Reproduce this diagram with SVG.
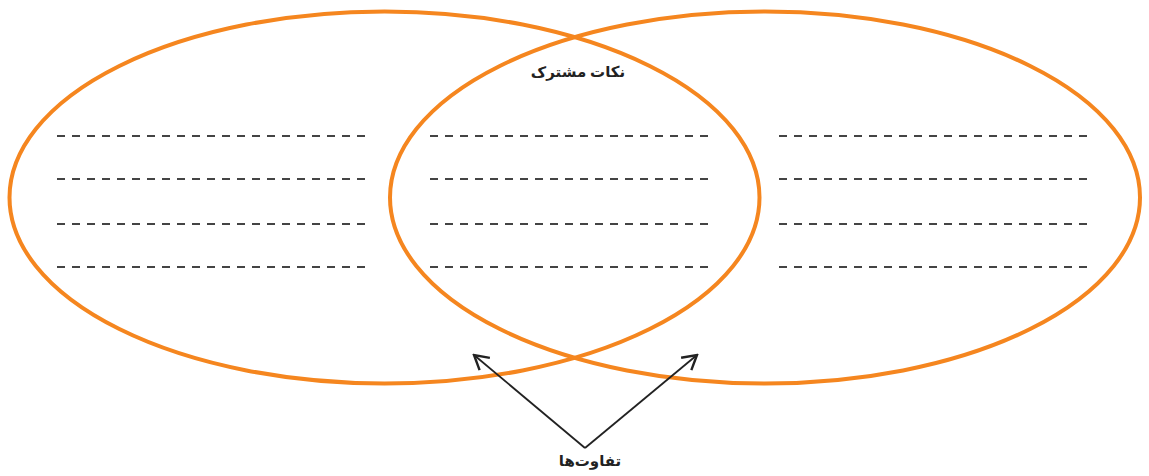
<svg xmlns="http://www.w3.org/2000/svg" width="1149" height="476" viewBox="0 0 1149 476">
<style>
.ell{fill:none;stroke:#F5861F;stroke-width:4}
.dash{stroke:#444;stroke-width:2;stroke-dasharray:8 7}
.arr{fill:none;stroke:#222;stroke-width:1.8}
.lbl{font-family:"Noto Sans","DejaVu Sans",sans-serif;font-weight:bold;fill:#222;font-size:15px;text-anchor:middle}
</style>
<defs>
<marker id="ah" viewBox="0 0 20 20" refX="18" refY="10" markerWidth="20" markerHeight="20" markerUnits="userSpaceOnUse" orient="auto">
<path d="M4,2 L18,10 L4,18" fill="none" stroke="#222" stroke-width="2.4"/>
</marker>
</defs>
<rect width="1149" height="476" fill="#fff"/>
<g id="left-circle">
<ellipse class="ell" cx="384.5" cy="197.5" rx="375" ry="186"/>
<line class="dash" x1="57" y1="136" x2="367" y2="136"/>
<line class="dash" x1="57" y1="179" x2="367" y2="179"/>
<line class="dash" x1="57" y1="224" x2="367" y2="224"/>
<line class="dash" x1="57" y1="267" x2="367" y2="267"/>
</g>
<g id="right-circle">
<ellipse class="ell" cx="765" cy="197.5" rx="375" ry="186"/>
<line class="dash" x1="779" y1="136" x2="1088" y2="136"/>
<line class="dash" x1="779" y1="179" x2="1088" y2="179"/>
<line class="dash" x1="779" y1="224" x2="1088" y2="224"/>
<line class="dash" x1="779" y1="267" x2="1088" y2="267"/>
</g>
<g id="common">
<text class="lbl" x="578" y="77" direction="rtl">نکات مشترک</text>
<line class="dash" x1="430" y1="136" x2="709" y2="136"/>
<line class="dash" x1="430" y1="179" x2="709" y2="179"/>
<line class="dash" x1="430" y1="224" x2="709" y2="224"/>
<line class="dash" x1="430" y1="267" x2="709" y2="267"/>
</g>
<g id="connectors">
<line class="arr" x1="585" y1="448" x2="474" y2="355" marker-end="url(#ah)"/>
<line class="arr" x1="585" y1="448" x2="697" y2="355" marker-end="url(#ah)"/>
</g>
<g id="differences">
<text class="lbl" x="590" y="466" direction="rtl">تفاوت‌ها</text>
</g>
</svg>
